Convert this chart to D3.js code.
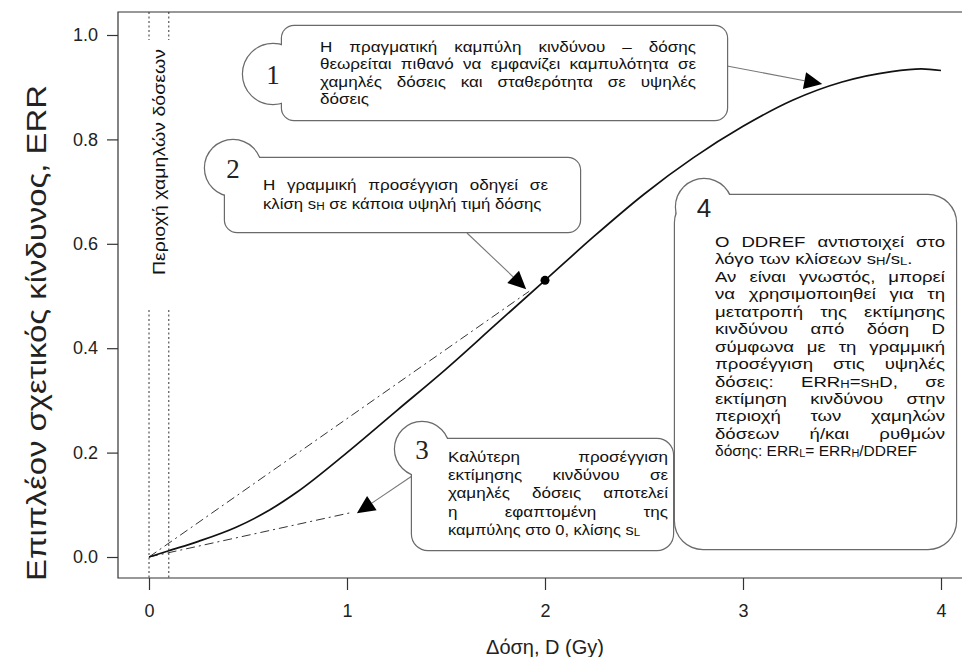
<!DOCTYPE html>
<html><head><meta charset="utf-8">
<script src="https://cdn.jsdelivr.net/npm/d3@7"></script>
<style>
html,body{margin:0;padding:0;background:#fff;}
svg{display:block;}
</style></head>
<body>
<svg id="chart" width="962" height="657"></svg>
<script>
// ---------------- DATA ----------------
const doses = [0, 0.1, 0.25, 0.44, 0.6, 0.75, 1.0, 1.25, 1.5, 1.75, 2.0, 2.25, 2.5, 2.75, 3.0, 3.25, 3.5, 3.75, 3.9, 4.0];
const errValues = [0, 0.012, 0.03, 0.057, 0.088, 0.125, 0.2, 0.28, 0.36, 0.445, 0.53, 0.615, 0.695, 0.765, 0.825, 0.875, 0.91, 0.93, 0.935, 0.932];
const highSlopeDose = [0, 1.92];
const highSlopeErr = [0, 0.509];
const lowSlopeDose = [0, 1.02];
const lowSlopeErr = [0, 0.085];
const markedDose = [2.0];
const markedErr = [0.53];
const lowDoseRegion = [0, 0.1];
const xTicks = [0, 1, 2, 3, 4];
const xTickLabels = ["0", "1", "2", "3", "4"];
const yTicks = [0, 0.2, 0.4, 0.6, 0.8, 1.0];
const yTickLabels = ["0.0", "0.2", "0.4", "0.6", "0.8", "1.0"];
const xTitle = "Δόση, D (Gy)";
const yTitle = "Επιπλέον σχετικός κίνδυνος, ERR";
const regionLabel = "Περιοχή χαμηλών δόσεων";
// arrow tips (dose, ERR)
const arrowTipDose = [3.40, 1.905, 1.05];
const arrowTipErr = [0.906, 0.513, 0.084];

const box1Lines = ["Η πραγματική καμπύλη κινδύνου – δόσης",
  "θεωρείται πιθανό να εμφανίζει καμπυλότητα σε",
  "χαμηλές δόσεις και σταθερότητα σε υψηλές",
  "δόσεις"];
const box2Lines = ["Η γραμμική προσέγγιση οδηγεί σε",
  "κλίση s_{H} σε κάποια υψηλή τιμή δόσης"];
const box3Lines = ["Καλύτερη προσέγγιση",
  "εκτίμησης κινδύνου σε",
  "χαμηλές δόσεις αποτελεί",
  "η εφαπτομένη της",
  "καμπύλης στο 0, κλίσης s_{L}"];
const box4Lines = ["Ο DDREF αντιστοιχεί στο",
  "λόγο των κλίσεων s_{H}/s_{L}.",
  "Αν είναι γνωστός, μπορεί",
  "να χρησιμοποιηθεί για τη",
  "μετατροπή της εκτίμησης",
  "κινδύνου από δόση D",
  "σύμφωνα με τη γραμμική",
  "προσέγγιση στις υψηλές",
  "δόσεις: ERR_{H}=s_{H}D, σε",
  "εκτίμηση κινδύνου στην",
  "περιοχή των χαμηλών",
  "δόσεων ή/και ρυθμών",
  "δόσης: ERR_{L}= ERR_{H}/DDREF"];
const box4ParagraphEnds = [1, 12];

// ---------------- LAYOUT ----------------
const svg = d3.select("#chart");
const frame = {left: 118, top: 12, bottom: 578, right: 975};
const x = d3.scaleLinear().domain([0, 4]).range([149, 941]);
const y = d3.scaleLinear().domain([0, 1]).range([557, 35]);
const SANS = "'Liberation Sans', Arial, sans-serif";
const NARROW = "'Liberation Sans Narrow', 'Liberation Sans', sans-serif";
const SERIF = "'Liberation Serif', 'Times New Roman', serif";

svg.append("rect").attr("width", 962).attr("height", 657).attr("fill", "#fff");

// frame
svg.append("path")
  .attr("d", `M${frame.right},${frame.top}H${frame.left}V${frame.bottom}H${frame.right}`)
  .attr("fill", "none").attr("stroke", "#333").attr("stroke-width", 1.2);

// axes
const gy = svg.append("g").attr("transform", `translate(${frame.left},0)`)
  .call(d3.axisLeft(y).tickValues(yTicks).tickFormat((d, i) => yTickLabels[i]).tickSize(11).tickPadding(9));
const gx = svg.append("g").attr("transform", `translate(0,${frame.bottom})`)
  .call(d3.axisBottom(x).tickValues(xTicks).tickFormat((d, i) => xTickLabels[i]).tickSize(12).tickPadding(14));
[gx, gy].forEach(g => {
  g.select(".domain").remove();
  g.selectAll(".tick line").attr("stroke", "#333").attr("stroke-width", 1.2);
  g.selectAll(".tick text").attr("font-family", SANS).attr("font-size", 18).attr("fill", "#222");
});

// titles
svg.append("text").attr("x", x(2)).attr("y", 654).attr("text-anchor", "middle")
  .attr("font-family", SANS).attr("font-size", 20).attr("fill", "#222").text(xTitle);
svg.append("text").attr("transform", "translate(36,333) rotate(-90)")
  .attr("text-anchor", "middle").attr("dominant-baseline", "central")
  .attr("font-family", SANS).attr("font-size", 28).attr("fill", "#222")
  .attr("textLength", 496).attr("lengthAdjust", "spacingAndGlyphs").text(yTitle);

// low dose region dotted lines
lowDoseRegion.forEach(d => {
  svg.append("line").attr("x1", x(d)).attr("x2", x(d)).attr("y1", frame.top).attr("y2", 40)
    .attr("stroke", "#333").attr("stroke-dasharray", "2,2.5").attr("stroke-width", 1);
  svg.append("line").attr("x1", x(d)).attr("x2", x(d)).attr("y1", 310).attr("y2", frame.bottom)
    .attr("stroke", "#333").attr("stroke-dasharray", "2,2.5").attr("stroke-width", 1);
});
svg.append("text").attr("transform", `translate(${(x(lowDoseRegion[0]) + x(lowDoseRegion[1])) / 2 + 1},162) rotate(-90)`)
  .attr("text-anchor", "middle").attr("dominant-baseline", "central")
  .attr("font-family", NARROW).attr("font-size", 17).attr("fill", "#111")
  .attr("textLength", 226).attr("lengthAdjust", "spacingAndGlyphs").text(regionLabel);

// tangent / linear approximation lines
const lineGen = d3.line().x(d => x(d[0])).y(d => y(d[1]));
svg.append("path").attr("d", lineGen(highSlopeDose.map((d, i) => [d, highSlopeErr[i]])))
  .attr("fill", "none").attr("stroke", "#333").attr("stroke-width", 1).attr("stroke-dasharray", "9,4,2,4");
svg.append("path").attr("d", lineGen(lowSlopeDose.map((d, i) => [d, lowSlopeErr[i]])))
  .attr("fill", "none").attr("stroke", "#333").attr("stroke-width", 1).attr("stroke-dasharray", "9,4,2,4");

// risk curve
svg.append("path")
  .attr("d", lineGen.curve(d3.curveMonotoneX)(doses.map((d, i) => [d, errValues[i]])))
  .attr("fill", "none").attr("stroke", "#111").attr("stroke-width", 1.7);

svg.selectAll("circle.pt").data(markedDose).enter().append("circle").attr("class", "pt")
  .attr("cx", d => x(d)).attr("cy", (d, i) => y(markedErr[i])).attr("r", 4.5).attr("fill", "#000");

// arrows
const arrowStarts = [[727, 66], [467, 233], [412, 476]];
arrowStarts.forEach((s, i) => {
  const tx = x(arrowTipDose[i]), ty = y(arrowTipErr[i]);
  const dx = tx - s[0], dy = ty - s[1], L = Math.hypot(dx, dy);
  const ux = dx / L, uy = dy / L, hl = 18, hw = 8.5;
  const bx = tx - ux * hl, by = ty - uy * hl;
  svg.append("line").attr("x1", s[0]).attr("y1", s[1]).attr("x2", bx).attr("y2", by)
    .attr("stroke", "#777").attr("stroke-width", 1.1);
  svg.append("path").attr("d", `M${tx},${ty}L${bx - uy * hw},${by + ux * hw}L${bx + uy * hw},${by - ux * hw}Z`)
    .attr("fill", "#000");
});

// annotation boxes
const boxes = [
  {x: 282, y: 26, w: 445, h: 94, rx: 12, cx: 273, cy: 74, r: 30, label: "1", lf: SERIF, lfs: 27,
   lines: box1Lines, ends: [3], tx0: 320, tx1: 696, ty: 52, lh: 17.4, font: SANS, fs: 15.5, sx: 1.1, lastSx: 1.1},
  {x: 225, y: 158, w: 355, h: 74, rx: 12, cx: 233, cy: 168, r: 28, label: "2", lf: SERIF, lfs: 27,
   lines: box2Lines, ends: [1], tx0: 263, tx1: 548, ty: 190, lh: 19, font: SANS, fs: 15.5, sx: 1.1, lastSx: 1.08},
  {x: 412, y: 439, w: 261, h: 111, rx: 16, cx: 422, cy: 449, r: 27, label: "3", lf: SERIF, lfs: 27,
   lines: box3Lines, ends: [4], tx0: 448, tx1: 668, ty: 462, lh: 18.2, font: SANS, fs: 15.5, sx: 1.1, lastSx: 1.06},
  {x: 675, y: 195, w: 281, h: 354, rx: 28, cx: 704, cy: 207, r: 28, label: "4", lf: SANS, lfs: 26,
   lines: box4Lines, ends: box4ParagraphEnds, tx0: 715, tx1: 945, ty: 247, lh: 17.45, font: SANS, fs: 15.5, sx: 1.2, lastSx: 1.0}
];

function makeWord(g, word, b) {
  const t = g.append("text").attr("font-family", b.font).attr("font-size", b.fs).attr("fill", "#111");
  const re = /_\{([^}]*)\}/g;
  let last = 0, m, shifted = false;
  while ((m = re.exec(word)) !== null) {
    if (m.index > last) {
      const ts = t.append("tspan").text(word.slice(last, m.index));
      if (shifted) { ts.attr("dy", -1); shifted = false; }
    }
    const sub = t.append("tspan").attr("font-size", b.fs * 0.7).text(m[1]);
    if (!shifted) { sub.attr("dy", 1); shifted = true; }
    last = re.lastIndex;
  }
  if (last < word.length) {
    const ts = t.append("tspan").text(word.slice(last));
    if (shifted) ts.attr("dy", -1);
  }
  return t;
}

boxes.forEach(b => {
  const g = svg.append("g");
  // outline pass
  g.append("rect").attr("x", b.x).attr("y", b.y).attr("width", b.w).attr("height", b.h).attr("rx", b.rx)
    .attr("fill", "none").attr("stroke", "#6a6a6a").attr("stroke-width", 2.4);
  g.append("circle").attr("cx", b.cx).attr("cy", b.cy).attr("r", b.r)
    .attr("fill", "none").attr("stroke", "#6a6a6a").attr("stroke-width", 2.4);
  // fill pass (union outline)
  g.append("rect").attr("x", b.x).attr("y", b.y).attr("width", b.w).attr("height", b.h).attr("rx", b.rx).attr("fill", "#fff");
  g.append("circle").attr("cx", b.cx).attr("cy", b.cy).attr("r", b.r).attr("fill", "#fff");
  g.append("text").attr("x", b.cx).attr("y", b.cy + 1).attr("text-anchor", "middle").attr("dominant-baseline", "central")
    .attr("font-family", b.lf).attr("font-size", b.lfs).attr("fill", "#222").text(b.label);
  const space = b.fs * 0.28;
  b.lines.forEach((ln, i) => {
    const isLast = i === b.lines.length - 1;
    const sx = isLast ? b.lastSx : b.sx;
    // each line is horizontally widened to mimic the reference typeface
    const tg = g.append("g").attr("transform", `translate(${b.tx0},0) scale(${sx},1)`);
    const avail = (b.tx1 - b.tx0) / sx;
    const yy = b.ty + i * b.lh;
    const words = ln.split(" ");
    const nodes = words.map(w => makeWord(tg, w, b));
    const widths = nodes.map(n => n.node().getComputedTextLength());
    const total = d3.sum(widths);
    let gap = space;
    if (!b.ends.includes(i) && words.length > 1) gap = Math.max(space * 0.6, (avail - total) / (words.length - 1));
    let xx = 0;
    nodes.forEach((n, k) => { n.attr("x", xx).attr("y", yy); xx += widths[k] + gap; });
  });
});
</script>
</body></html>
